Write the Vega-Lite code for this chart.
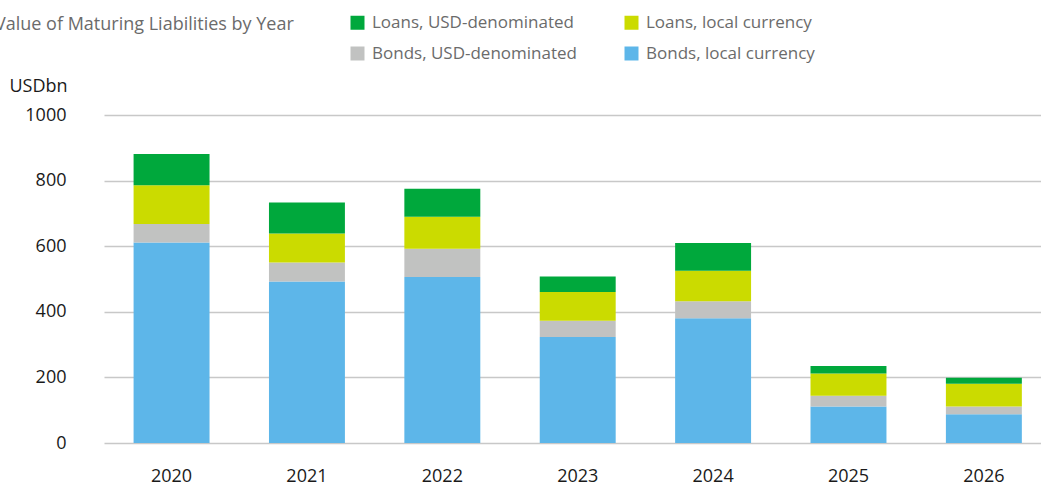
{
  "$schema": "https://vega.github.io/schema/vega-lite/v6.json",
  "autosize": {"type": "none"},
  "width": 937,
  "height": 328,
  "padding": {"left": 104, "top": 115, "right": 0, "bottom": 44},
  "background": "white",
  "title": {
    "text": "Value of Maturing Liabilities by Year",
    "anchor": "start",
    "frame": "group",
    "dx": -109,
    "offset": -34,
    "baseline": "alphabetic",
    "font": "Open Sans",
    "fontSize": 18,
    "fontWeight": "normal",
    "color": "#6b6b6b"
  },
  "config": {
    "font": "Open Sans",
    "view": {"stroke": null},
    "axis": {"labelFont": "Open Sans", "titleFont": "Open Sans"},
    "legend": {"labelFont": "Open Sans"}
  },
  "data": {
    "values": [
      {"year": "2020", "series": "Bonds, local currency", "value": 611},
      {"year": "2020", "series": "Bonds, USD-denominated", "value": 57},
      {"year": "2020", "series": "Loans, local currency", "value": 118},
      {"year": "2020", "series": "Loans, USD-denominated", "value": 95},
      {"year": "2021", "series": "Bonds, local currency", "value": 492},
      {"year": "2021", "series": "Bonds, USD-denominated", "value": 58},
      {"year": "2021", "series": "Loans, local currency", "value": 89},
      {"year": "2021", "series": "Loans, USD-denominated", "value": 94},
      {"year": "2022", "series": "Bonds, local currency", "value": 506},
      {"year": "2022", "series": "Bonds, USD-denominated", "value": 86},
      {"year": "2022", "series": "Loans, local currency", "value": 98},
      {"year": "2022", "series": "Loans, USD-denominated", "value": 85},
      {"year": "2023", "series": "Bonds, local currency", "value": 323},
      {"year": "2023", "series": "Bonds, USD-denominated", "value": 50},
      {"year": "2023", "series": "Loans, local currency", "value": 87},
      {"year": "2023", "series": "Loans, USD-denominated", "value": 48},
      {"year": "2024", "series": "Bonds, local currency", "value": 380},
      {"year": "2024", "series": "Bonds, USD-denominated", "value": 52},
      {"year": "2024", "series": "Loans, local currency", "value": 93},
      {"year": "2024", "series": "Loans, USD-denominated", "value": 85},
      {"year": "2025", "series": "Bonds, local currency", "value": 111},
      {"year": "2025", "series": "Bonds, USD-denominated", "value": 33},
      {"year": "2025", "series": "Loans, local currency", "value": 68},
      {"year": "2025", "series": "Loans, USD-denominated", "value": 23},
      {"year": "2026", "series": "Bonds, local currency", "value": 88},
      {"year": "2026", "series": "Bonds, USD-denominated", "value": 23},
      {"year": "2026", "series": "Loans, local currency", "value": 70},
      {"year": "2026", "series": "Loans, USD-denominated", "value": 18}
    ]
  },
  "transform": [
    {"calculate": "indexof(['Bonds, local currency', 'Bonds, USD-denominated', 'Loans, local currency', 'Loans, USD-denominated'], datum.series)", "as": "stackRank"}
  ],
  "mark": {"type": "bar"},
  "encoding": {
    "x": {
      "field": "year",
      "type": "ordinal",
      "scale": {"paddingInner": 0.439, "paddingOuter": 0.18, "align": 0.607},
      "axis": {
        "title": null,
        "labelAngle": 0,
        "domain": false,
        "ticks": false,
        "labelPadding": 24,
        "labelFontSize": 18,
        "labelColor": "#1a1a1a"
      }
    },
    "y": {
      "field": "value",
      "type": "quantitative",
      "stack": "zero",
      "scale": {"domain": [0, 1000], "nice": false},
      "axis": {
        "values": [0, 200, 400, 600, 800, 1000],
        "format": "d",
        "title": "USDbn",
        "titleAngle": 0,
        "titleAlign": "right",
        "titleBaseline": "alphabetic",
        "titleX": -37,
        "titleY": -24,
        "titleFontSize": 18,
        "titleFontWeight": "normal",
        "titleColor": "#1a1a1a",
        "domain": false,
        "ticks": false,
        "labelPadding": 38,
        "labelFontSize": 18,
        "labelColor": "#1a1a1a",
        "gridColor": "#c8c8c8",
        "gridWidth": 1.5
      }
    },
    "order": {"field": "stackRank", "type": "quantitative", "sort": "ascending"},
    "color": {
      "field": "series",
      "type": "nominal",
      "scale": {
        "domain": ["Loans, USD-denominated", "Bonds, USD-denominated", "Loans, local currency", "Bonds, local currency"],
        "range": ["#00a83c", "#c1c2c1", "#cbdb00", "#5db6e9"]
      },
      "legend": {
        "title": null,
        "orient": "none",
        "legendX": 245,
        "legendY": -101,
        "columns": 2,
        "columnPadding": 46,
        "rowPadding": 13,
        "padding": 0,
        "symbolType": "square",
        "symbolSize": 196,
        "symbolStrokeWidth": 0,
        "symbolOpacity": 1,
        "labelFontSize": 17,
        "labelColor": "#6b6b6b",
        "labelOffset": 6,
        "labelLimit": 400
      }
    }
  }
}
